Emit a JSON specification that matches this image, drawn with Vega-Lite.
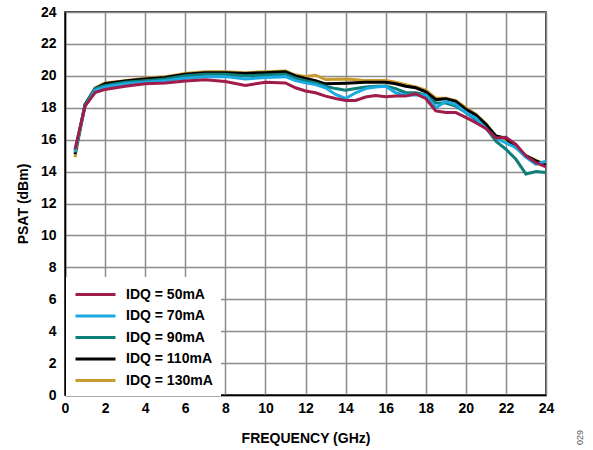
{
  "$schema": "https://vega.github.io/schema/vega-lite/v6.json",
  "width": 481,
  "height": 383,
  "autosize": {"type": "none"},
  "padding": {"left": 65, "top": 12, "right": 47, "bottom": 55},
  "background": "white",
  "config": {
    "font": "Liberation Sans",
    "view": {"stroke": "black", "strokeWidth": 1.5},
    "axis": {"labelFont": "Liberation Sans", "labelFontWeight": "bold", "labelFontSize": 14, "labelColor": "black", "titleFont": "Liberation Sans", "titleFontWeight": "bold", "titleFontSize": 14, "titleColor": "black", "gridColor": "#8c8c8c", "gridWidth": 1.5, "gridOpacity": 1, "domainColor": "black", "domainWidth": 1.5, "ticks": false}
  },
  "title": {"text": "029", "orient": "right", "anchor": "end", "angle": -90, "align": "left", "baseline": "middle", "fontSize": 9, "fontWeight": "normal", "color": "#555555", "offset": 17},
  "data": {"values": [
    {"f":0.5,"IDQ = 50mA":15.4,"IDQ = 70mA":15.2,"IDQ = 90mA":15.3,"IDQ = 110mA":15.1,"IDQ = 130mA":14.9},
    {"f":1,"IDQ = 50mA":18.1,"IDQ = 70mA":18.1,"IDQ = 90mA":18.15,"IDQ = 110mA":18.2,"IDQ = 130mA":18.2},
    {"f":1.5,"IDQ = 50mA":18.95,"IDQ = 70mA":19.1,"IDQ = 90mA":19.2,"IDQ = 110mA":19.2,"IDQ = 130mA":19.25},
    {"f":2,"IDQ = 50mA":19.15,"IDQ = 70mA":19.3,"IDQ = 90mA":19.4,"IDQ = 110mA":19.5,"IDQ = 130mA":19.55},
    {"f":3,"IDQ = 50mA":19.35,"IDQ = 70mA":19.5,"IDQ = 90mA":19.6,"IDQ = 110mA":19.67,"IDQ = 130mA":19.7},
    {"f":4,"IDQ = 50mA":19.5,"IDQ = 70mA":19.6,"IDQ = 90mA":19.7,"IDQ = 110mA":19.8,"IDQ = 130mA":19.85},
    {"f":5,"IDQ = 50mA":19.55,"IDQ = 70mA":19.7,"IDQ = 90mA":19.8,"IDQ = 110mA":19.9,"IDQ = 130mA":19.95},
    {"f":6,"IDQ = 50mA":19.67,"IDQ = 70mA":19.85,"IDQ = 90mA":20.0,"IDQ = 110mA":20.1,"IDQ = 130mA":20.15},
    {"f":7,"IDQ = 50mA":19.75,"IDQ = 70mA":19.95,"IDQ = 90mA":20.1,"IDQ = 110mA":20.2,"IDQ = 130mA":20.25},
    {"f":8,"IDQ = 50mA":19.65,"IDQ = 70mA":19.95,"IDQ = 90mA":20.1,"IDQ = 110mA":20.2,"IDQ = 130mA":20.25},
    {"f":9,"IDQ = 50mA":19.4,"IDQ = 70mA":19.8,"IDQ = 90mA":20.0,"IDQ = 110mA":20.15,"IDQ = 130mA":20.2},
    {"f":10,"IDQ = 50mA":19.6,"IDQ = 70mA":19.9,"IDQ = 90mA":20.05,"IDQ = 110mA":20.2,"IDQ = 130mA":20.25},
    {"f":11,"IDQ = 50mA":19.55,"IDQ = 70mA":19.95,"IDQ = 90mA":20.1,"IDQ = 110mA":20.25,"IDQ = 130mA":20.3},
    {"f":11.5,"IDQ = 50mA":19.25,"IDQ = 70mA":19.7,"IDQ = 90mA":19.85,"IDQ = 110mA":20.0,"IDQ = 130mA":20.05},
    {"f":12,"IDQ = 50mA":19.05,"IDQ = 70mA":19.56,"IDQ = 90mA":19.7,"IDQ = 110mA":19.83,"IDQ = 130mA":19.96},
    {"f":12.5,"IDQ = 50mA":18.94,"IDQ = 70mA":19.45,"IDQ = 90mA":19.55,"IDQ = 110mA":19.7,"IDQ = 130mA":20.04},
    {"f":13,"IDQ = 50mA":18.73,"IDQ = 70mA":19.25,"IDQ = 90mA":19.35,"IDQ = 110mA":19.5,"IDQ = 130mA":19.77},
    {"f":13.5,"IDQ = 50mA":18.58,"IDQ = 70mA":18.83,"IDQ = 90mA":19.2,"IDQ = 110mA":19.52,"IDQ = 130mA":19.78},
    {"f":14,"IDQ = 50mA":18.46,"IDQ = 70mA":18.58,"IDQ = 90mA":19.1,"IDQ = 110mA":19.54,"IDQ = 130mA":19.8},
    {"f":14.5,"IDQ = 50mA":18.46,"IDQ = 70mA":18.94,"IDQ = 90mA":19.2,"IDQ = 110mA":19.57,"IDQ = 130mA":19.75},
    {"f":15,"IDQ = 50mA":18.67,"IDQ = 70mA":19.2,"IDQ = 90mA":19.3,"IDQ = 110mA":19.6,"IDQ = 130mA":19.7},
    {"f":15.5,"IDQ = 50mA":18.77,"IDQ = 70mA":19.3,"IDQ = 90mA":19.35,"IDQ = 110mA":19.6,"IDQ = 130mA":19.7},
    {"f":16,"IDQ = 50mA":18.69,"IDQ = 70mA":19.35,"IDQ = 90mA":19.37,"IDQ = 110mA":19.6,"IDQ = 130mA":19.7},
    {"f":16.5,"IDQ = 50mA":18.73,"IDQ = 70mA":18.94,"IDQ = 90mA":19.2,"IDQ = 110mA":19.5,"IDQ = 130mA":19.6},
    {"f":17,"IDQ = 50mA":18.73,"IDQ = 70mA":18.8,"IDQ = 90mA":18.94,"IDQ = 110mA":19.35,"IDQ = 130mA":19.45},
    {"f":17.5,"IDQ = 50mA":18.87,"IDQ = 70mA":18.8,"IDQ = 90mA":18.94,"IDQ = 110mA":19.25,"IDQ = 130mA":19.3},
    {"f":18,"IDQ = 50mA":18.58,"IDQ = 70mA":18.8,"IDQ = 90mA":18.8,"IDQ = 110mA":19.0,"IDQ = 130mA":19.1},
    {"f":18.5,"IDQ = 50mA":17.8,"IDQ = 70mA":18.0,"IDQ = 90mA":18.3,"IDQ = 110mA":18.5,"IDQ = 130mA":18.6},
    {"f":19,"IDQ = 50mA":17.7,"IDQ = 70mA":18.4,"IDQ = 90mA":18.3,"IDQ = 110mA":18.56,"IDQ = 130mA":18.6},
    {"f":19.5,"IDQ = 50mA":17.7,"IDQ = 70mA":18.2,"IDQ = 90mA":18.1,"IDQ = 110mA":18.4,"IDQ = 130mA":18.45},
    {"f":20,"IDQ = 50mA":17.4,"IDQ = 70mA":17.7,"IDQ = 90mA":17.7,"IDQ = 110mA":17.9,"IDQ = 130mA":18.0},
    {"f":20.5,"IDQ = 50mA":17.06,"IDQ = 70mA":17.35,"IDQ = 90mA":17.25,"IDQ = 110mA":17.54,"IDQ = 130mA":17.6},
    {"f":21,"IDQ = 50mA":16.7,"IDQ = 70mA":16.7,"IDQ = 90mA":16.75,"IDQ = 110mA":16.96,"IDQ = 130mA":17.0},
    {"f":21.5,"IDQ = 50mA":16.1,"IDQ = 70mA":16.1,"IDQ = 90mA":15.9,"IDQ = 110mA":16.23,"IDQ = 130mA":16.2},
    {"f":22,"IDQ = 50mA":16.15,"IDQ = 70mA":15.8,"IDQ = 90mA":15.4,"IDQ = 110mA":16.1,"IDQ = 130mA":15.95},
    {"f":22.5,"IDQ = 50mA":15.7,"IDQ = 70mA":15.5,"IDQ = 90mA":14.77,"IDQ = 110mA":15.5,"IDQ = 130mA":15.5},
    {"f":23,"IDQ = 50mA":14.98,"IDQ = 70mA":14.9,"IDQ = 90mA":13.85,"IDQ = 110mA":14.98,"IDQ = 130mA":15.0},
    {"f":23.5,"IDQ = 50mA":14.56,"IDQ = 70mA":14.46,"IDQ = 90mA":14.0,"IDQ = 110mA":14.67,"IDQ = 130mA":14.7},
    {"f":24,"IDQ = 50mA":14.3,"IDQ = 70mA":14.65,"IDQ = 90mA":13.95,"IDQ = 110mA":14.4,"IDQ = 130mA":14.45}
  ]},
  "transform": [
    {"fold": ["IDQ = 130mA", "IDQ = 110mA", "IDQ = 90mA", "IDQ = 70mA", "IDQ = 50mA"], "as": ["s", "p"]}
  ],
  "mark": {"type": "line", "strokeWidth": 3, "clip": true},
  "encoding": {
    "x": {"field": "f", "type": "quantitative", "scale": {"domain": [0, 24], "nice": false}, "axis": {"values": [0,2,4,6,8,10,12,14,16,18,20,22,24], "title": "FREQUENCY (GHz)", "labelPadding": 6, "titlePadding": 16, "labelFlush": false}},
    "y": {"field": "p", "type": "quantitative", "scale": {"domain": [0, 24], "nice": false}, "axis": {"values": [0,2,4,6,8,10,12,14,16,18,20,22,24], "title": "PSAT (dBm)", "labelPadding": 9, "titlePadding": 10, "labelFlush": false}},
    "color": {"field": "s", "type": "nominal", "scale": {"domain": ["IDQ = 50mA", "IDQ = 70mA", "IDQ = 90mA", "IDQ = 110mA", "IDQ = 130mA"], "range": ["#A01C4C", "#1BAAE2", "#0E7E78", "#000000", "#C99A2E"]},
      "legend": {"title": null, "orient": "none", "legendX": 1, "legendY": 265, "fillColor": "white", "padding": 8, "symbolType": "M-1,0H4", "symbolSize": 256, "symbolStrokeWidth": 3, "labelFont": "Liberation Sans", "labelFontWeight": "bold", "labelFontSize": 14, "labelColor": "black", "labelOffset": 33, "rowPadding": 4.5, "labelLimit": 200}},
    "order": {"field": "f", "type": "quantitative"}
  }
}
